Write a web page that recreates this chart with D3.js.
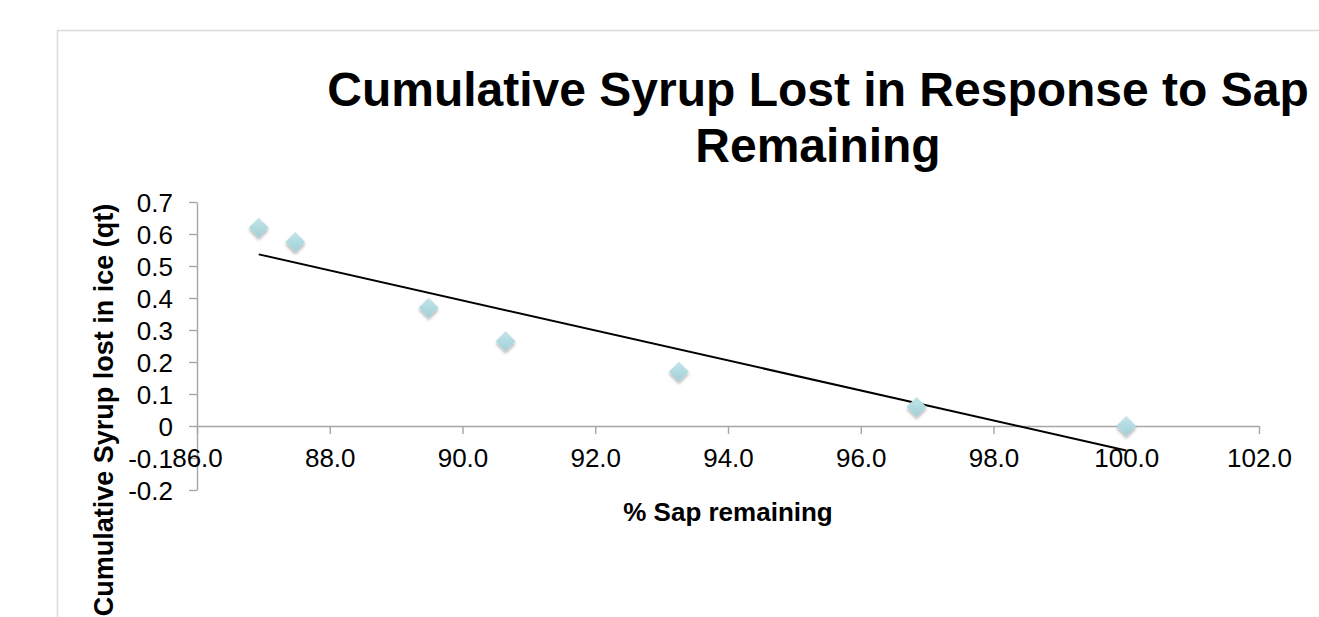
<!DOCTYPE html>
<html>
<head>
<meta charset="utf-8">
<script src="https://cdn.jsdelivr.net/npm/d3@7"></script>
<style>
    body { margin: 0; background: #fff; }
    #chart { width: 1319px; height: 617px; }
    text { font-family: "Liberation Sans", Arial, sans-serif; fill: #000; }
    .axis path, .axis line { stroke: #a6a6a6; stroke-width: 1.4; }
    .axis text { font-size: 26px; }
    .chart-title { font-size: 48px; font-weight: bold; }
    .axis-title { font-size: 26px; font-weight: bold; }
    .y-title { font-size: 27px; }
</style>
</head>
<body>
<div id="chart"></div>
<script>
// data
let sapRemaining = [86.93, 87.48, 89.49, 90.65, 93.26, 96.84, 100.0];
let syrupLost = [0.62, 0.575, 0.37, 0.265, 0.17, 0.06, 0.0];
let xTicks = [86, 88, 90, 92, 94, 96, 98, 100, 102];
let yTicks = [-0.2, -0.1, 0, 0.1, 0.2, 0.3, 0.4, 0.5, 0.6, 0.7];
let titleLines = ["Cumulative Syrup Lost in Response to Sap", "Remaining"];

class scatterVis {
    constructor(_parentElement) {
        this.parentElement = _parentElement;
        this.data = sapRemaining.map((x, i) => ({ x: x, y: syrupLost[i] }));
        this.initVis();
    }

    initVis() {
        let vis = this;

        vis.width = 1319;
        vis.height = 617;

        vis.svg = d3.select("#" + vis.parentElement).append("svg")
            .attr("width", vis.width)
            .attr("height", vis.height);

        // marker gradient + soft shadow
        let defs = vis.svg.append("defs");
        let grad = defs.append("linearGradient")
            .attr("id", "markerFill")
            .attr("x1", 0).attr("y1", 0).attr("x2", 0).attr("y2", 1);
        grad.append("stop").attr("offset", "0%").attr("stop-color", "#c3e5e9");
        grad.append("stop").attr("offset", "100%").attr("stop-color", "#9fd0d7");

        let shadow = defs.append("filter")
            .attr("id", "markerShadow")
            .attr("x", "-50%").attr("y", "-50%")
            .attr("width", "200%").attr("height", "200%");
        shadow.append("feDropShadow")
            .attr("dx", 0).attr("dy", 2.5)
            .attr("stdDeviation", 1.8)
            .attr("flood-color", "#000")
            .attr("flood-opacity", 0.3);

        // chart frame (runs off the right and bottom edge)
        vis.svg.append("path")
            .attr("d", "M57.5," + vis.height + "V30.5H" + vis.width)
            .attr("fill", "none")
            .attr("stroke", "#dcdcdc")
            .attr("stroke-width", 1.5);

        vis.x = d3.scaleLinear()
            .domain([86, 102])
            .range([197, 1259]);

        vis.y = d3.scaleLinear()
            .domain([-0.2, 0.7])
            .range([490, 202]);

        // title
        vis.svg.append("text")
            .attr("class", "chart-title")
            .attr("text-anchor", "middle")
            .selectAll("tspan")
            .data(titleLines)
            .enter()
            .append("tspan")
            .attr("x", 818)
            .attr("y", (d, i) => 106 + i * 56)
            .text(d => d);

        // y axis
        vis.yAxis = d3.axisLeft(vis.y)
            .tickValues(yTicks)
            .tickSize(8)
            .tickSizeOuter(0)
            .tickPadding(16)
            .tickFormat(d => Math.abs(d) < 1e-9 ? "0" : d.toFixed(1));

        vis.svg.append("g")
            .attr("class", "axis y-axis")
            .attr("transform", "translate(" + vis.x(86) + ",0)")
            .call(vis.yAxis)
            .selectAll("text")
            .attr("dy", "0.36em");

        // x axis sits on y = 0
        vis.xAxis = d3.axisBottom(vis.x)
            .tickValues(xTicks)
            .tickSize(8)
            .tickSizeOuter(0)
            .tickPadding(15)
            .tickFormat(d => d.toFixed(1));

        vis.svg.append("g")
            .attr("class", "axis x-axis")
            .attr("transform", "translate(0," + vis.y(0) + ")")
            .call(vis.xAxis);

        // axis titles
        vis.svg.append("text")
            .attr("class", "axis-title")
            .attr("text-anchor", "middle")
            .attr("x", 728)
            .attr("y", 521)
            .text("% Sap remaining");

        vis.svg.append("text")
            .attr("class", "axis-title y-title")
            .attr("text-anchor", "middle")
            .attr("transform", "translate(113,410) rotate(-90)")
            .text("Cumulative Syrup lost in ice (qt)");

        // linear trend line (least squares)
        let mx = d3.mean(vis.data, d => d.x);
        let my = d3.mean(vis.data, d => d.y);
        let slope = d3.sum(vis.data, d => (d.x - mx) * (d.y - my)) / d3.sum(vis.data, d => (d.x - mx) * (d.x - mx));
        let intercept = my - slope * mx;
        let ext = d3.extent(vis.data, d => d.x);
        let trend = ext.map(v => ({ x: v, y: intercept + slope * v }));

        vis.svg.append("path")
            .datum(trend)
            .attr("fill", "none")
            .attr("stroke", "#000")
            .attr("stroke-width", 2)
            .attr("d", d3.line().x(d => vis.x(d.x)).y(d => vis.y(d.y)));

        // diamond markers
        vis.svg.append("g")
            .selectAll("path")
            .data(vis.data)
            .enter()
            .append("path")
            .attr("d", d3.symbol().type(d3.symbolDiamond2).size(250))
            .attr("transform", d => "translate(" + vis.x(d.x) + "," + vis.y(d.y) + ")")
            .attr("fill", "url(#markerFill)")
            .attr("filter", "url(#markerShadow)");
    }
}

new scatterVis("chart");
</script>
</body>
</html>
